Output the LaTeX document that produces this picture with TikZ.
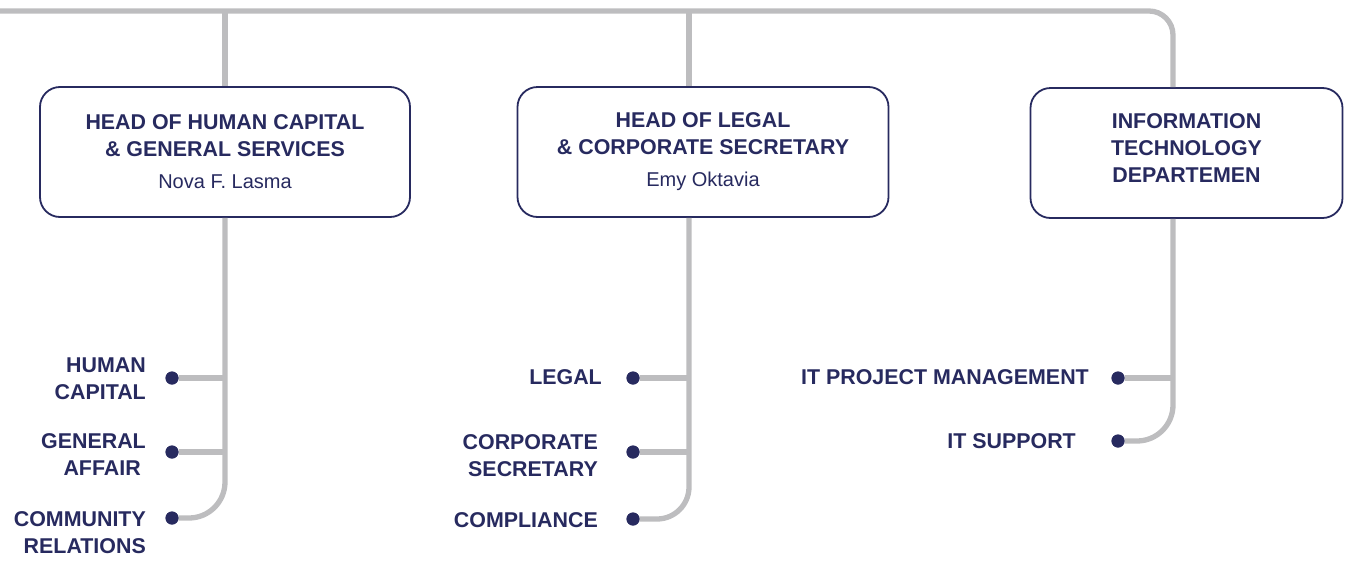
\documentclass[tikz,border=0pt]{standalone}
\usepackage{fontspec}
\setmainfont{Liberation Sans}
\definecolor{navy}{HTML}{272A5F}
\definecolor{lgray}{HTML}{BDBDBF}
\newcommand\pnamefont{\normalfont\fontsize{20}{22}\selectfont}
\begin{document}
\begin{tikzpicture}[x=1pt,y=-1pt,
  conn/.style={draw=lgray,line width=5.3pt},
  box/.style={draw=navy,line width=1.8pt,rounded corners=20pt,minimum height=130pt,
    align=center,text=navy,inner sep=0pt,font=\bfseries\fontsize{21.4}{28}\selectfont},
  dot/.style={circle,fill=navy,minimum size=13pt,inner sep=0pt},
  lbl/.style={text=navy,align=right,font=\bfseries\fontsize{21.4}{27}\selectfont,anchor=east,inner sep=0pt}]
\useasboundingbox (0,0) rectangle (1350,560);
\coordinate (tl) at (0,11);
% boxes
\node[box,minimum width=370pt] (b1) at (225,152) {HEAD OF HUMAN CAPITAL\\[-1pt]\& GENERAL SERVICES\\[4pt]{\pnamefont Nova F. Lasma}};
\node[box,minimum width=371pt] (b2) at (703,152) {HEAD OF LEGAL\\[-1pt]\& CORPORATE SECRETARY\\[4pt]{\pnamefont Emy Oktavia}};
\node[box,minimum width=312pt] (b3) at (1186.5,153) {INFORMATION\\[-1pt]TECHNOLOGY\\[-1pt]DEPARTEMEN\\[-18pt]\mbox{}};
\coordinate (v1) at (225,0);
\coordinate (v2) at (689,0);
\coordinate (v3) at (1173,0);
% dots
\node[dot] (d11) at (172,378) {};
\node[dot] (d12) at (172,452) {};
\node[dot] (d13) at (172,518) {};
\node[dot] (d21) at (633,378) {};
\node[dot] (d22) at (633,452) {};
\node[dot] (d23) at (633,519) {};
\node[dot] (d31) at (1118,378) {};
\node[dot] (d32) at (1118,441) {};
% labels
\node[lbl] (l11) at (146,379) {HUMAN\\CAPITAL};
\node[lbl] (l12) at (146,455) {GENERAL\\AFFAIR\hspace*{5pt}};
\node[lbl] (l13) at (146,533) {COMMUNITY\\RELATIONS};
\node[lbl] (l21) at (602,377) {LEGAL};
\node[lbl] (l22) at (598,456) {CORPORATE\\SECRETARY};
\node[lbl] (l23) at (598,520) {COMPLIANCE};
\node[lbl] (l31) at (1089,377) {IT PROJECT MANAGEMENT};
\node[lbl] (l32) at (1076,441) {IT SUPPORT};
% top bus
\draw[conn,rounded corners=24pt] (tl) -- (v3 |- tl) -- (v3 |- b3.north);
\draw[conn] (v1 |- tl) -- (v1 |- b1.north);
\draw[conn] (v2 |- tl) -- (v2 |- b2.north);
% branches
\draw[conn,rounded corners=36pt] (v1 |- b1.south) -- (v1 |- d13) -- (d13);
\draw[conn] (d11) -- (v1 |- d11);
\draw[conn] (d12) -- (v1 |- d12);
\draw[conn,rounded corners=32pt] (v2 |- b2.south) -- (v2 |- d23) -- (d23);
\draw[conn] (d21) -- (v2 |- d21);
\draw[conn] (d22) -- (v2 |- d22);
\draw[conn,rounded corners=36pt] (v3 |- b3.south) -- (v3 |- d32) -- (d32);
\draw[conn] (d31) -- (v3 |- d31);
% dots on top
\foreach \d in {d11,d12,d13,d21,d22,d23,d31,d32}
  \fill[navy] (\d) circle (6.5pt);
\end{tikzpicture}
\end{document}
